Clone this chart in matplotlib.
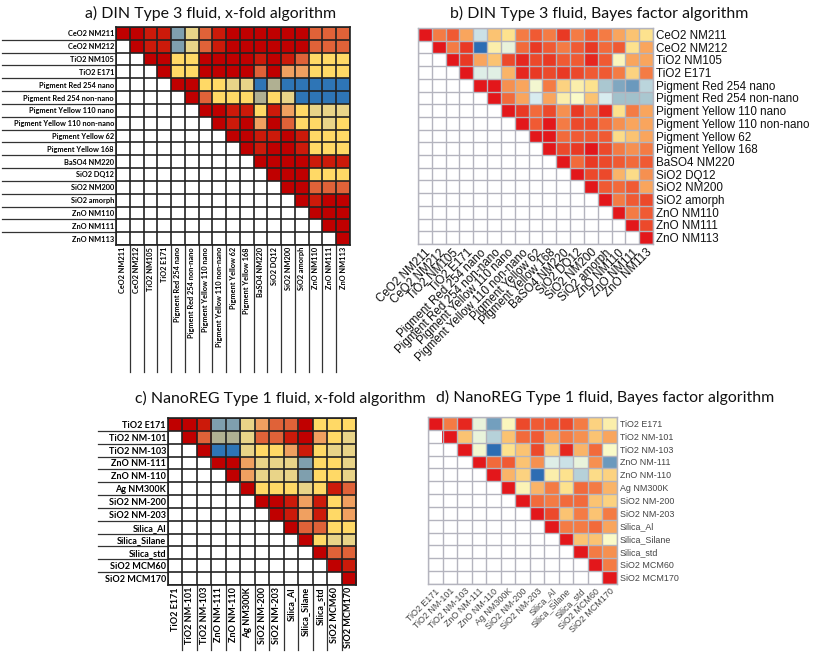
import numpy as np
import matplotlib
matplotlib.use("Agg")
import matplotlib.pyplot as plt
from matplotlib.colors import ListedColormap, BoundaryNorm, LinearSegmentedColormap

# ---- data ----
din_labels = ["CeO2 NM211", "CeO2 NM212", "TiO2 NM105", "TiO2 E171",
              "Pigment Red 254 nano", "Pigment Red 254 non-nano",
              "Pigment Yellow 110 nano", "Pigment Yellow 110 non-nano",
              "Pigment Yellow 62", "Pigment Yellow 168", "BaSO4 NM220",
              "SiO2 DQ12", "SiO2 NM200", "SiO2 amorph", "ZnO NM110",
              "ZnO NM111", "ZnO NM113"]

nreg_labels = ["TiO2 E171", "TiO2 NM-101", "TiO2 NM-103", "ZnO NM-111",
               "ZnO NM-110", "Ag NM300K", "SiO2 NM-200", "SiO2 NM-203",
               "Silica_Al", "Silica_Silane", "Silica_std", "SiO2 MCM60",
               "SiO2 MCM170"]

# x-fold classes (0 = blue ... 8 = dark red), each row starts at the diagonal
din_xfold = [
    [8, 8, 7, 7, 1, 3, 6, 7, 8, 8, 8, 8, 8, 8, 6, 6, 6],
    [8, 7, 7, 1, 3, 6, 7, 8, 8, 8, 8, 8, 8, 6, 6, 6],
    [8, 8, 4, 4, 8, 8, 8, 8, 7, 8, 7, 6, 4, 4, 4],
    [8, 4, 4, 8, 8, 8, 8, 6, 8, 5, 5, 4, 4, 4],
    [8, 8, 4, 4, 3, 3, 0, 2, 0, 0, 0, 0, 0],
    [8, 6, 4, 4, 4, 2, 4, 3, 0, 0, 0, 0],
    [8, 8, 7, 7, 4, 7, 5, 4, 3, 3, 3],
    [8, 7, 8, 5, 8, 6, 4, 4, 3, 4],
    [8, 8, 7, 7, 8, 7, 4, 4, 4],
    [8, 7, 8, 8, 7, 4, 4, 4],
    [8, 8, 8, 8, 7, 7, 7],
    [8, 8, 8, 4, 4, 4],
    [8, 8, 6, 6, 6],
    [8, 7, 8, 8],
    [8, 8, 8],
    [8, 8],
    [8],
]

# Bayes factor scores (0 = blue ... 10 = red)
din_bayes = [
    [10, 7, 8, 6, 1.8, 5, 4, 7, 8, 7, 9, 7, 8, 7, 6, 5, 4],
    [10, 7, 9, 0, 3.5, 2.5, 7.5, 9, 8, 7, 8, 9, 7.5, 8, 4, 6],
    [10, 9, 6, 5, 8.5, 9.5, 8.5, 9, 8, 8, 9.5, 8, 3.2, 6, 6],
    [10, 2.2, 2.3, 5.5, 9.5, 9, 8.5, 9, 8.5, 8, 8, 7, 4.5, 7],
    [10, 10, 6.5, 6, 2.8, 7, 4.5, 3.5, 4, 1.3, 0.8, 0.6, 1.6],
    [10, 7.5, 6, 2, 6, 3.5, 3, 5, 2, 1.2, 1.2, 1.3],
    [10, 9, 7.5, 8.5, 6.5, 9, 7.5, 9.5, 4, 7, 6],
    [10, 8, 10, 7, 8.5, 8.5, 7.5, 6.5, 6, 6],
    [10, 10, 7.5, 8, 8, 8, 4.2, 5, 6],
    [10, 8.5, 9, 10, 8.5, 7, 6.5, 7],
    [10, 7.5, 9, 8.5, 8, 7.5, 8],
    [10, 8.5, 8.5, 5.5, 4.2, 6.5],
    [10, 8, 7.5, 8, 6],
    [10, 7, 8, 8.5],
    [10, 7, 8],
    [10, 8.5],
    [10],
]

nreg_xfold = [
    [8, 8, 7, 1, 1, 3, 5, 6, 6, 8, 4, 4, 4],
    [8, 6, 2, 2, 3, 6, 6, 7, 8, 5, 4, 3],
    [8, 0, 0, 3, 4, 4, 5, 7, 4, 3, 3],
    [8, 8, 5, 3, 3, 3, 1, 4, 4, 3],
    [8, 5, 3, 3, 3, 1, 4, 4, 3],
    [8, 4, 4, 4, 3, 4, 7, 6],
    [8, 8, 7, 5, 7, 4, 5],
    [8, 7, 5, 7, 4, 5],
    [8, 6, 6, 4, 4],
    [8, 4, 3, 3],
    [8, 6, 6],
    [8, 7],
    [8],
]

nreg_bayes = [
    [10, 7, 9.5, 2.5, 0.7, 3.2, 8.5, 8, 8, 8.5, 7, 4.5, 3.5],
    [10, 5, 2.5, 1.5, 5, 7.5, 8, 6, 7, 6.5, 5, 6],
    [10, 2.8, 0, 4, 5, 8.5, 4.5, 9.5, 5.5, 7.5, 3],
    [10, 7.5, 8, 5, 6.5, 2.2, 1.8, 2.5, 6.5, 0.6],
    [10, 5.5, 4.5, 0, 3.5, 4, 1.5, 4.2, 4.5],
    [10, 3.3, 5.5, 7, 4, 7.5, 7, 5.5],
    [10, 7.5, 7, 7.5, 7.5, 5, 4.5],
    [10, 8.5, 5, 7, 5, 7],
    [10, 7, 7, 7.5, 6],
    [10, 5, 5, 3],
    [10, 7, 6.5],
    [10, 7],
    [10],
]

# ---- styles ----
xfold_cmap = ListedColormap(["#2e75b6", "#7f9fae", "#b0b092", "#e9d488", "#ffd966",
                             "#f0a060", "#e06238", "#cc1a0a", "#c00000"])
xfold_cmap.set_bad("white")
xfold_norm = BoundaryNorm(np.arange(-0.5, 9.5, 1), xfold_cmap.N)

bayes_cmap = LinearSegmentedColormap.from_list("bf", [
    "#2d6db3", "#97b8c4", "#d8ecef", "#fbfbc8", "#fde28e", "#fcc473",
    "#f9a55d", "#f57c45", "#f05a33", "#ea3a25", "#e3171b"])
bayes_cmap.set_bad("white")

W, H = 813, 653
fig = plt.figure(figsize=(W / 100, H / 100), dpi=100)


def add_ax(x0, y0, x1, y1):
    return fig.add_axes([x0 / W, 1 - y1 / H, (x1 - x0) / W, (y1 - y0) / H])


def tri_matrix(rows):
    n = len(rows)
    m = np.full((n, n), np.nan)
    for i, r in enumerate(rows):
        m[i, i:] = r
    return m


def draw_heat(ax, rows, cmap, norm, grid_color, lw):
    m = tri_matrix(rows)
    n = m.shape[0]
    ax.imshow(np.ma.masked_invalid(m), cmap=cmap, norm=norm, aspect="auto",
              interpolation="nearest")
    ax.set_xticks(np.arange(-0.5, n, 1), minor=True)
    ax.set_yticks(np.arange(-0.5, n, 1), minor=True)
    ax.grid(which="minor", color=grid_color, lw=lw)
    ax.tick_params(which="both", length=0)
    for s in ax.spines.values():
        s.set_color(grid_color)
        s.set_linewidth(lw)
    return n


def xfold_panel(ax, rows, labels, fs, ext_left, ext_down):
    n = draw_heat(ax, rows, xfold_cmap, xfold_norm, "#222222", 1.2)
    ax.set_yticks(range(n))
    ax.set_yticklabels(labels, fontsize=fs, fontweight="bold", family="Lato")
    ax.set_xticks(range(n))
    ax.set_xticklabels(labels, fontsize=fs, fontweight="bold", family="Lato",
                       rotation=90, va="top")
    ax.tick_params(axis="both", pad=1.5)
    # table-like rule lines running out to the labels
    for k in range(1, n):
        ax.plot([-0.5 - ext_left, -0.5], [k - 0.5, k - 0.5], color="#333333",
                lw=0.9, clip_on=False)
        ax.plot([k - 0.5, k - 0.5], [n - 0.5, n - 0.5 + ext_down], color="#333333",
                lw=0.9, clip_on=False)
    ax.set_xlim(-0.5, n - 0.5)
    ax.set_ylim(n - 0.5, -0.5)


def bayes_panel(ax, rows, labels, fs, color):
    n = draw_heat(ax, rows, bayes_cmap, plt.Normalize(0, 10), "#b4b4be", 1.0)
    ax.yaxis.tick_right()
    ax.set_yticks(range(n))
    ax.set_yticklabels(labels, fontsize=fs, family="Liberation Sans", color=color)
    ax.set_xticks(range(n))
    ax.set_xticklabels(labels, fontsize=fs, family="Liberation Sans", color=color,
                       rotation=45, ha="right", va="top", rotation_mode="anchor")
    ax.tick_params(axis="both", pad=2)


ax_a = add_ax(116, 27, 350, 245)
xfold_panel(ax_a, din_xfold, din_labels, 5.3, 8.3, 9.9)

ax_b = add_ax(418, 28, 653, 244)
bayes_panel(ax_b, din_bayes, din_labels, 8.4, "#111111")

ax_c = add_ax(168, 418, 356, 585)
xfold_panel(ax_c, nreg_xfold, nreg_labels, 6.5, 4.84, 5.06)

ax_d = add_ax(428, 417, 617, 584)
bayes_panel(ax_d, nreg_bayes, nreg_labels, 6.4, "#444444")

title_kw = dict(family="Lato", fontsize=11.4, ha="center", va="center", color="#111111")
fig.text(211 / W, 1 - 13 / H, "a) DIN Type 3 fluid, x-fold algorithm", **title_kw)
fig.text(599 / W, 1 - 13 / H, "b) DIN Type 3 fluid, Bayes factor algorithm", **title_kw)
fig.text(280 / W, 1 - 398 / H, "c) NanoREG Type 1 fluid, x-fold algorithm", **title_kw)
fig.text(605 / W, 1 - 397 / H, "d) NanoREG Type 1 fluid, Bayes factor algorithm", **title_kw)

fig.savefig("out.png", dpi=100)
